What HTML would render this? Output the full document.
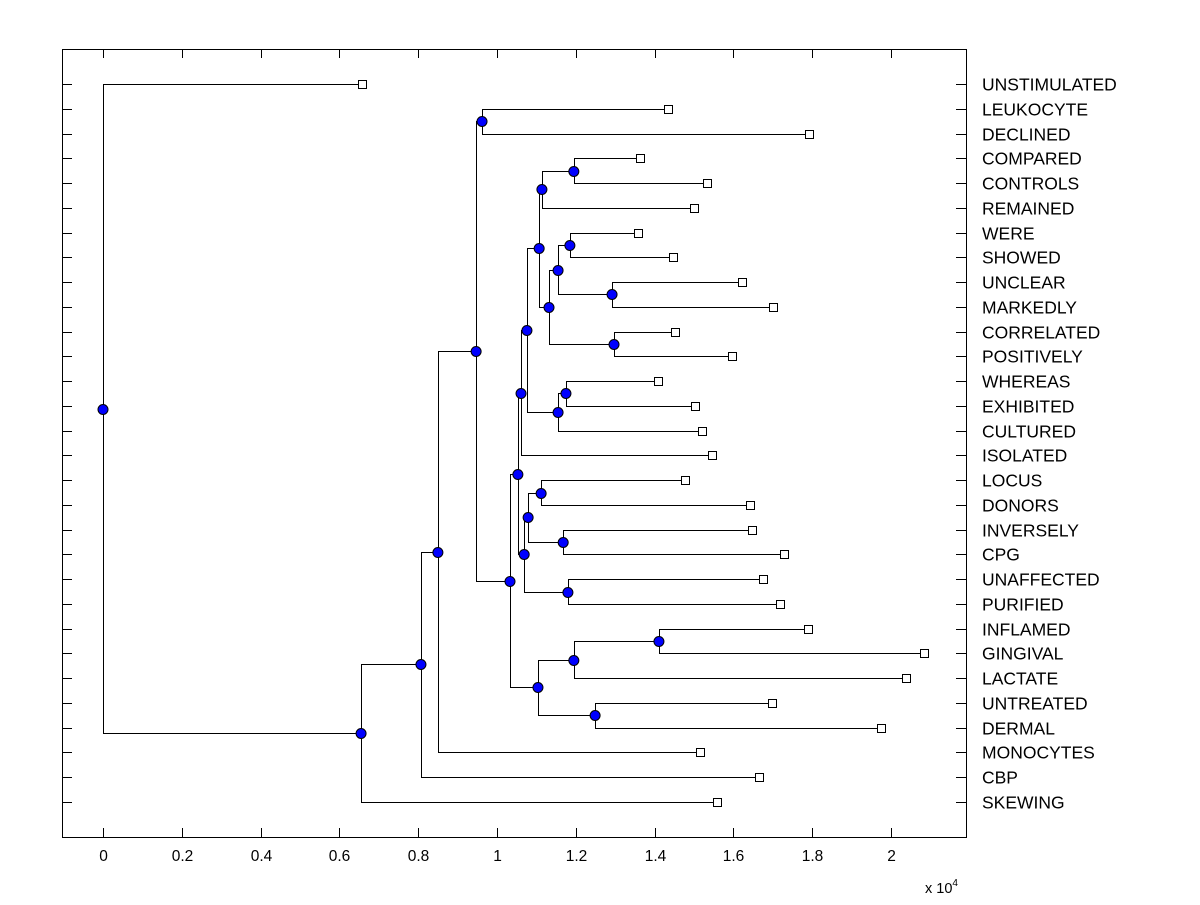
<!DOCTYPE html>
<html><head><meta charset="utf-8"><style>
body{margin:0;background:#fff;}
svg text{font-family:"Liberation Sans",Arial,sans-serif;}
</style></head><body>
<svg id="c" width="1200" height="900" xmlns="http://www.w3.org/2000/svg"></svg>
<script>
const labels=["UNSTIMULATED","LEUKOCYTE","DECLINED","COMPARED","CONTROLS","REMAINED","WERE","SHOWED","UNCLEAR","MARKEDLY","CORRELATED","POSITIVELY","WHEREAS","EXHIBITED","CULTURED","ISOLATED","LOCUS","DONORS","INVERSELY","CPG","UNAFFECTED","PURIFIED","INFLAMED","GINGIVAL","LACTATE","UNTREATED","DERMAL","MONOCYTES","CBP","SKEWING"];
const leafValues=[0.657,1.434,1.792,1.363,1.533,1.500,1.358,1.447,1.622,1.701,1.452,1.596,1.409,1.503,1.520,1.546,1.477,1.642,1.647,1.728,1.675,1.718,1.789,2.084,2.038,1.698,1.975,1.515,1.665,1.558];
const mergeLeft=[1,3,31,6,8,33,10,35,32,12,39,38,41,16,18,43,20,45,42,22,49,25,50,48,30,54,55,56,0];
const mergeRight=[2,4,5,7,9,34,11,36,37,13,14,40,15,17,19,44,21,46,47,23,24,26,51,52,53,27,28,29,57];
const mergeValues=[0.962,1.195,1.114,1.185,1.292,1.155,1.297,1.132,1.107,1.175,1.155,1.076,1.061,1.112,1.168,1.079,1.180,1.069,1.053,1.411,1.195,1.249,1.104,1.033,0.947,0.850,0.807,0.655,0];
const xTicks=[0,0.2,0.4,0.6,0.8,1,1.2,1.4,1.6,1.8,2];
const xTickLabels=["0","0.2","0.4","0.6","0.8","1","1.2","1.4","1.6","1.8","2"];

const svg=document.getElementById('c');
const NS="http://www.w3.org/2000/svg";
const L=62,T=49,R=966,B=837;
const X=v=>103+v*394;
const Y=i=>84+i*(802-84)/29;
function mk(tag,attrs,parent){const e=document.createElementNS(NS,tag);for(const k in attrs)e.setAttribute(k,attrs[k]);(parent||svg).appendChild(e);return e;}

const frame=mk('rect',{x:L+0.5,y:T+0.5,width:R-L,height:B-T,fill:'none',stroke:'#000','stroke-width':1});



xTicks.forEach((t,i)=>{
  const x=Math.round(X(t))+0.5;
  const g=mk('g',{});
  
  
  mk('line',{x1:x,x2:x,y1:B,y2:B-9,stroke:'#000'},g);
  mk('line',{x1:x,x2:x,y1:T,y2:T+9,stroke:'#000'},g);
  const tx=mk('text',{x:x,y:861,'font-size':15.5,'text-anchor':'middle'},g);
  tx.textContent=xTickLabels[i];
});
const ex=mk('text',{x:925,y:893,'font-size':14.5});


ex.innerHTML='x 10<tspan dy="-7" font-size="10">4</tspan>';

const nx=[],ny=[];
labels.forEach((lab,i)=>{nx[i]=X(leafValues[i]);ny[i]=Y(i);
  const y=Math.round(Y(i))+0.5;
  const g=mk('g',{});
  
  
  mk('line',{x1:L,x2:L+10,y1:y,y2:y,stroke:'#000'},g);
  mk('line',{x1:R-10,x2:R,y1:y,y2:y,stroke:'#000'},g);
  const tx=mk('text',{x:982,y:y+6,'font-size':17.5},g);
  tx.textContent=lab;
});
const lines=mk('g',{});


const nodes=[];
mergeLeft.forEach((a,k)=>{
  const b=mergeRight[k];const id=labels.length+k;
  const x=X(mergeValues[k]);const y=(ny[a]+ny[b])/2;
  nx[id]=x;ny[id]=y;
  const xr=Math.round(x)+0.5;
  mk('path',{d:`M${nx[a]} ${Math.round(ny[a])+0.5}H${xr}V${Math.round(ny[b])+0.5}H${nx[b]}`,fill:'none',stroke:'#000','stroke-width':1},lines);
  nodes.push([x,y]);
});
labels.forEach((lab,i)=>{
  const s=mk('rect',{x:Math.round(nx[i])-4+0.5,y:Math.round(ny[i])-4+0.5,width:8,height:8,fill:'#fff',stroke:'#000'});
  
  
});
nodes.forEach((p,k)=>{
  const c=mk('circle',{cx:p[0],cy:Math.round(p[1])+0.5,r:5,fill:'#0000ff',stroke:'#000','stroke-width':1});
  
  
});
</script>
</body></html>
